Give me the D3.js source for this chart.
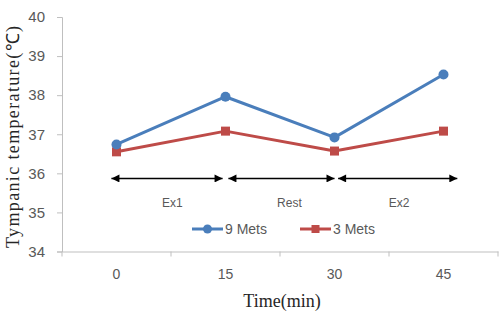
<!DOCTYPE html>
<html>
<head>
<meta charset="utf-8">
<script src="https://cdn.jsdelivr.net/npm/d3@7"></script>
<style>
  body { margin: 0; background: #fff; }
  svg { display: block; }
</style>
</head>
<body>
<div id="chart"></div>
<script>
// chart data
var times = ['0', '15', '30', '45'];
var mets9 = [36.74, 37.96, 36.92, 38.53];
var mets3 = [36.55, 37.08, 36.57, 37.08];
var yTicks = [34, 35, 36, 37, 38, 39, 40];
// phases shown as arrows (minutes) and where their labels sit
var phaseNames = ['Ex1', 'Rest', 'Ex2'];
var phaseStart = [-0.7, 15.4, 30.5];
var phaseEnd = [14.6, 30, 46.9];
var phaseLabelAt = [7.7, 23.8, 38.9];
var arrowLevel = 35.87;

var width = 502, height = 311;
var plotLeft = 62, plotRight = 498, plotTop = 17, plotBottom = 251.5;

var svg = d3.select('#chart')
  .append('svg')
  .attr('width', width)
  .attr('height', height);

var x = d3.scaleBand().domain(times).range([plotLeft, plotRight]);
var xMin = d3.scaleLinear()
  .domain([0, 45])
  .range([x('0') + x.bandwidth() / 2, x('45') + x.bandwidth() / 2]);
var y = d3.scaleLinear().domain([34, 40]).range([plotBottom, plotTop]);

var axisColor = '#bfbfbf';
var textColor = '#595959';

// y axis
var yAxis = svg.append('g')
  .attr('transform', 'translate(' + plotLeft + ',0)')
  .call(d3.axisLeft(y).tickValues(yTicks).tickFormat(d3.format('d')).tickSize(5).tickPadding(12));
yAxis.select('.domain').attr('stroke', axisColor);
yAxis.selectAll('.tick line').attr('stroke', axisColor);
yAxis.selectAll('.tick text')
  .attr('fill', textColor)
  .style('font-family', 'Liberation Sans, Arial, sans-serif')
  .style('font-size', '15px');

// x axis: ticks at band edges
var xAxis = svg.append('g')
  .attr('transform', 'translate(0,' + plotBottom + ')')
  .call(d3.axisBottom(x).tickSize(0).tickPadding(18));
xAxis.select('.domain').attr('stroke', axisColor);
xAxis.selectAll('.tick text')
  .attr('fill', textColor)
  .style('font-family', 'Liberation Sans, Arial, sans-serif')
  .style('font-size', '14px');
var edges = times.map(function (t) { return x(t); }).concat([plotRight]);
svg.selectAll('.edgeTick')
  .data(edges)
  .enter()
  .append('line')
  .attr('class', 'edgeTick')
  .attr('x1', function (d) { return d; })
  .attr('x2', function (d) { return d; })
  .attr('y1', plotBottom)
  .attr('y2', plotBottom + 5)
  .attr('stroke', axisColor);

// axis titles
svg.append('text')
  .attr('x', 282)
  .attr('y', 307)
  .attr('text-anchor', 'middle')
  .style('font-family', 'Liberation Serif, Times New Roman, serif')
  .style('font-size', '18px')
  .attr('fill', '#262626')
  .text('Time(min)');

svg.append('text')
  .attr('transform', 'translate(19,137) rotate(-90)')
  .attr('text-anchor', 'middle')
  .style('font-family', 'Liberation Serif, Times New Roman, serif')
  .style('font-size', '18px')
  .attr('fill', '#262626')
  .attr('textLength', 222)
  .text('Tympanic temperature(℃)');

// arrows
var defs = svg.append('defs');
['arrowEnd', 'arrowStart'].forEach(function (id) {
  defs.append('marker')
    .attr('id', id)
    .attr('viewBox', '0 0 10 10')
    .attr('refX', id === 'arrowEnd' ? 10 : 0)
    .attr('refY', 5)
    .attr('markerWidth', 10)
    .attr('markerHeight', 8)
    .attr('markerUnits', 'userSpaceOnUse')
    .attr('orient', 'auto')
    .append('path')
    .attr('d', id === 'arrowEnd' ? 'M0,0L10,5L0,10Z' : 'M10,0L0,5L10,10Z')
    .attr('fill', '#000');
});

svg.selectAll('.phase')
  .data(phaseNames)
  .enter()
  .append('line')
  .attr('class', 'phase')
  .attr('x1', function (d, i) { return xMin(phaseStart[i]); })
  .attr('x2', function (d, i) { return xMin(phaseEnd[i]); })
  .attr('y1', y(arrowLevel))
  .attr('y2', y(arrowLevel))
  .attr('stroke', '#000')
  .attr('stroke-width', 1.5)
  .attr('marker-start', 'url(#arrowStart)')
  .attr('marker-end', 'url(#arrowEnd)');

svg.selectAll('.phaseLabel')
  .data(phaseNames)
  .enter()
  .append('text')
  .attr('class', 'phaseLabel')
  .attr('x', function (d, i) { return xMin(phaseLabelAt[i]); })
  .attr('y', 207)
  .attr('text-anchor', 'middle')
  .style('font-family', 'Liberation Sans, Arial, sans-serif')
  .style('font-size', '12px')
  .attr('fill', textColor)
  .text(function (d) { return d; });

// series
var series = [
  { name: '9 Mets', values: mets9, color: '#4a7ebb', marker: 'circle' },
  { name: '3 Mets', values: mets3, color: '#be4b48', marker: 'square' }
];

var line = d3.line()
  .x(function (d, i) { return x(times[i]) + x.bandwidth() / 2; })
  .y(function (d) { return y(d); });

series.slice().reverse().forEach(function (s) {
  svg.append('path')
    .datum(s.values)
    .attr('d', line)
    .attr('fill', 'none')
    .attr('stroke', s.color)
    .attr('stroke-width', 3)
    .attr('stroke-linejoin', 'round');

  var g = svg.append('g');
  if (s.marker === 'circle') {
    g.selectAll('circle')
      .data(s.values)
      .enter()
      .append('circle')
      .attr('cx', function (d, i) { return x(times[i]) + x.bandwidth() / 2; })
      .attr('cy', function (d) { return y(d); })
      .attr('r', 5)
      .attr('fill', s.color);
  } else {
    g.selectAll('rect')
      .data(s.values)
      .enter()
      .append('rect')
      .attr('x', function (d, i) { return x(times[i]) + x.bandwidth() / 2 - 4.5; })
      .attr('y', function (d) { return y(d) - 4.5; })
      .attr('width', 9)
      .attr('height', 9)
      .attr('fill', s.color);
  }
});

// legend
var legendX = [192, 300];
var legendY = 229;
var legend = svg.selectAll('.legend')
  .data(series)
  .enter()
  .append('g')
  .attr('class', 'legend')
  .attr('transform', function (d, i) {
    return 'translate(' + legendX[i] + ',' + legendY + ')';
  });

legend.append('line')
  .attr('x1', 0)
  .attr('x2', 31)
  .attr('stroke', function (d) { return d.color; })
  .attr('stroke-width', 3);

legend.each(function (d) {
  var g = d3.select(this);
  if (d.marker === 'circle') {
    g.append('circle').attr('cx', 15.5).attr('r', 4.5).attr('fill', d.color);
  } else {
    g.append('rect').attr('x', 11.5).attr('y', -4).attr('width', 8).attr('height', 8).attr('fill', d.color);
  }
});

legend.append('text')
  .attr('x', 33)
  .attr('y', 5)
  .style('font-family', 'Liberation Sans, Arial, sans-serif')
  .style('font-size', '14px')
  .attr('fill', textColor)
  .text(function (d) { return d.name; });
</script>
</body>
</html>
